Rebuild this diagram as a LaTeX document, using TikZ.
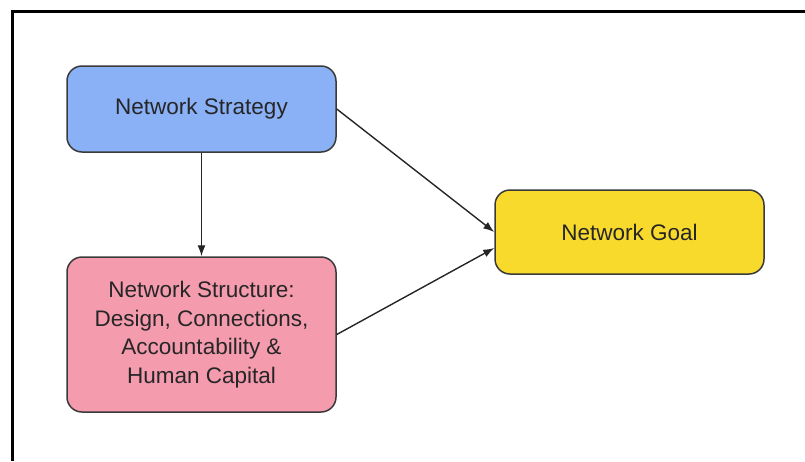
\documentclass[tikz,border=0pt]{standalone}
\usepackage{fontspec}
\setmainfont{Liberation Sans}
\usetikzlibrary{arrows.meta}
\definecolor{stratblue}{HTML}{8AB0F6}
\definecolor{structpink}{HTML}{F49BAD}
\definecolor{goalyellow}{HTML}{F8DA2C}
\definecolor{edgegray}{HTML}{3A3A3A}
\begin{document}
\begin{tikzpicture}[x=1pt,y=-1pt,
  box/.style={draw=edgegray,line width=1.5pt,rounded corners=15pt,minimum width=269pt,
    align=center,font=\fontsize{22.5}{28.5}\selectfont,text=black!85},
  link/.style={draw=black!85,line width=1.4pt,-{Latex[length=11pt,width=8pt]}}]
  \useasboundingbox (0,0) rectangle (805,461);
  \path (201.5,109) node[box,fill=stratblue,minimum height=86pt] (strat) {Network Strategy}
  (201.5,334.5) node[box,fill=structpink,minimum height=155pt] (struct) {Network Structure:\\Design, Connections,\\Accountability \&\\Human Capital}
  (629.5,232) node[box,fill=goalyellow,minimum height=84pt] (goal) {Network Goal};
  \draw[link] (strat) -- (struct);
  \draw[link] (strat.east) -- (goal.west);
  \draw[link] (struct.east) -- ([yshift=-16pt]goal.west);
  \draw[line width=3pt] (12,461) -- (12,11) -- (805,11);
\end{tikzpicture}
\end{document}
